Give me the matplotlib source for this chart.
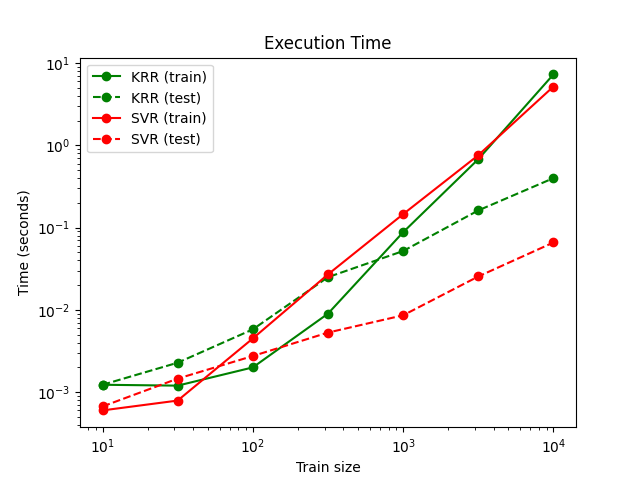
import numpy as np
import matplotlib
matplotlib.use("Agg")
import matplotlib.pyplot as plt

train_sizes = [10, 31.6, 100, 316, 1000, 3162, 10000]

krr_train = [1.23e-3, 1.2e-3, 2.0e-3, 9.0e-3, 8.8e-2, 0.68, 7.3]
krr_test = [1.23e-3, 2.28e-3, 5.8e-3, 2.5e-2, 5.2e-2, 0.162, 0.40]
svr_train = [6.0e-4, 7.9e-4, 4.5e-3, 2.7e-2, 0.146, 0.76, 5.2]
svr_test = [6.7e-4, 1.46e-3, 2.75e-3, 5.3e-3, 8.6e-3, 2.55e-2, 6.6e-2]

plt.figure(figsize=(6.4, 4.8), dpi=100)
plt.plot(train_sizes, krr_train, 'o-', color='g', label="KRR (train)")
plt.plot(train_sizes, krr_test, 'o--', color='g', label="KRR (test)")
plt.plot(train_sizes, svr_train, 'o-', color='r', label="SVR (train)")
plt.plot(train_sizes, svr_test, 'o--', color='r', label="SVR (test)")
plt.xscale("log")
plt.yscale("log")
plt.xlabel("Train size")
plt.ylabel("Time (seconds)")
plt.title("Execution Time")
plt.legend(loc="best")
plt.savefig("out.png", dpi=100)
